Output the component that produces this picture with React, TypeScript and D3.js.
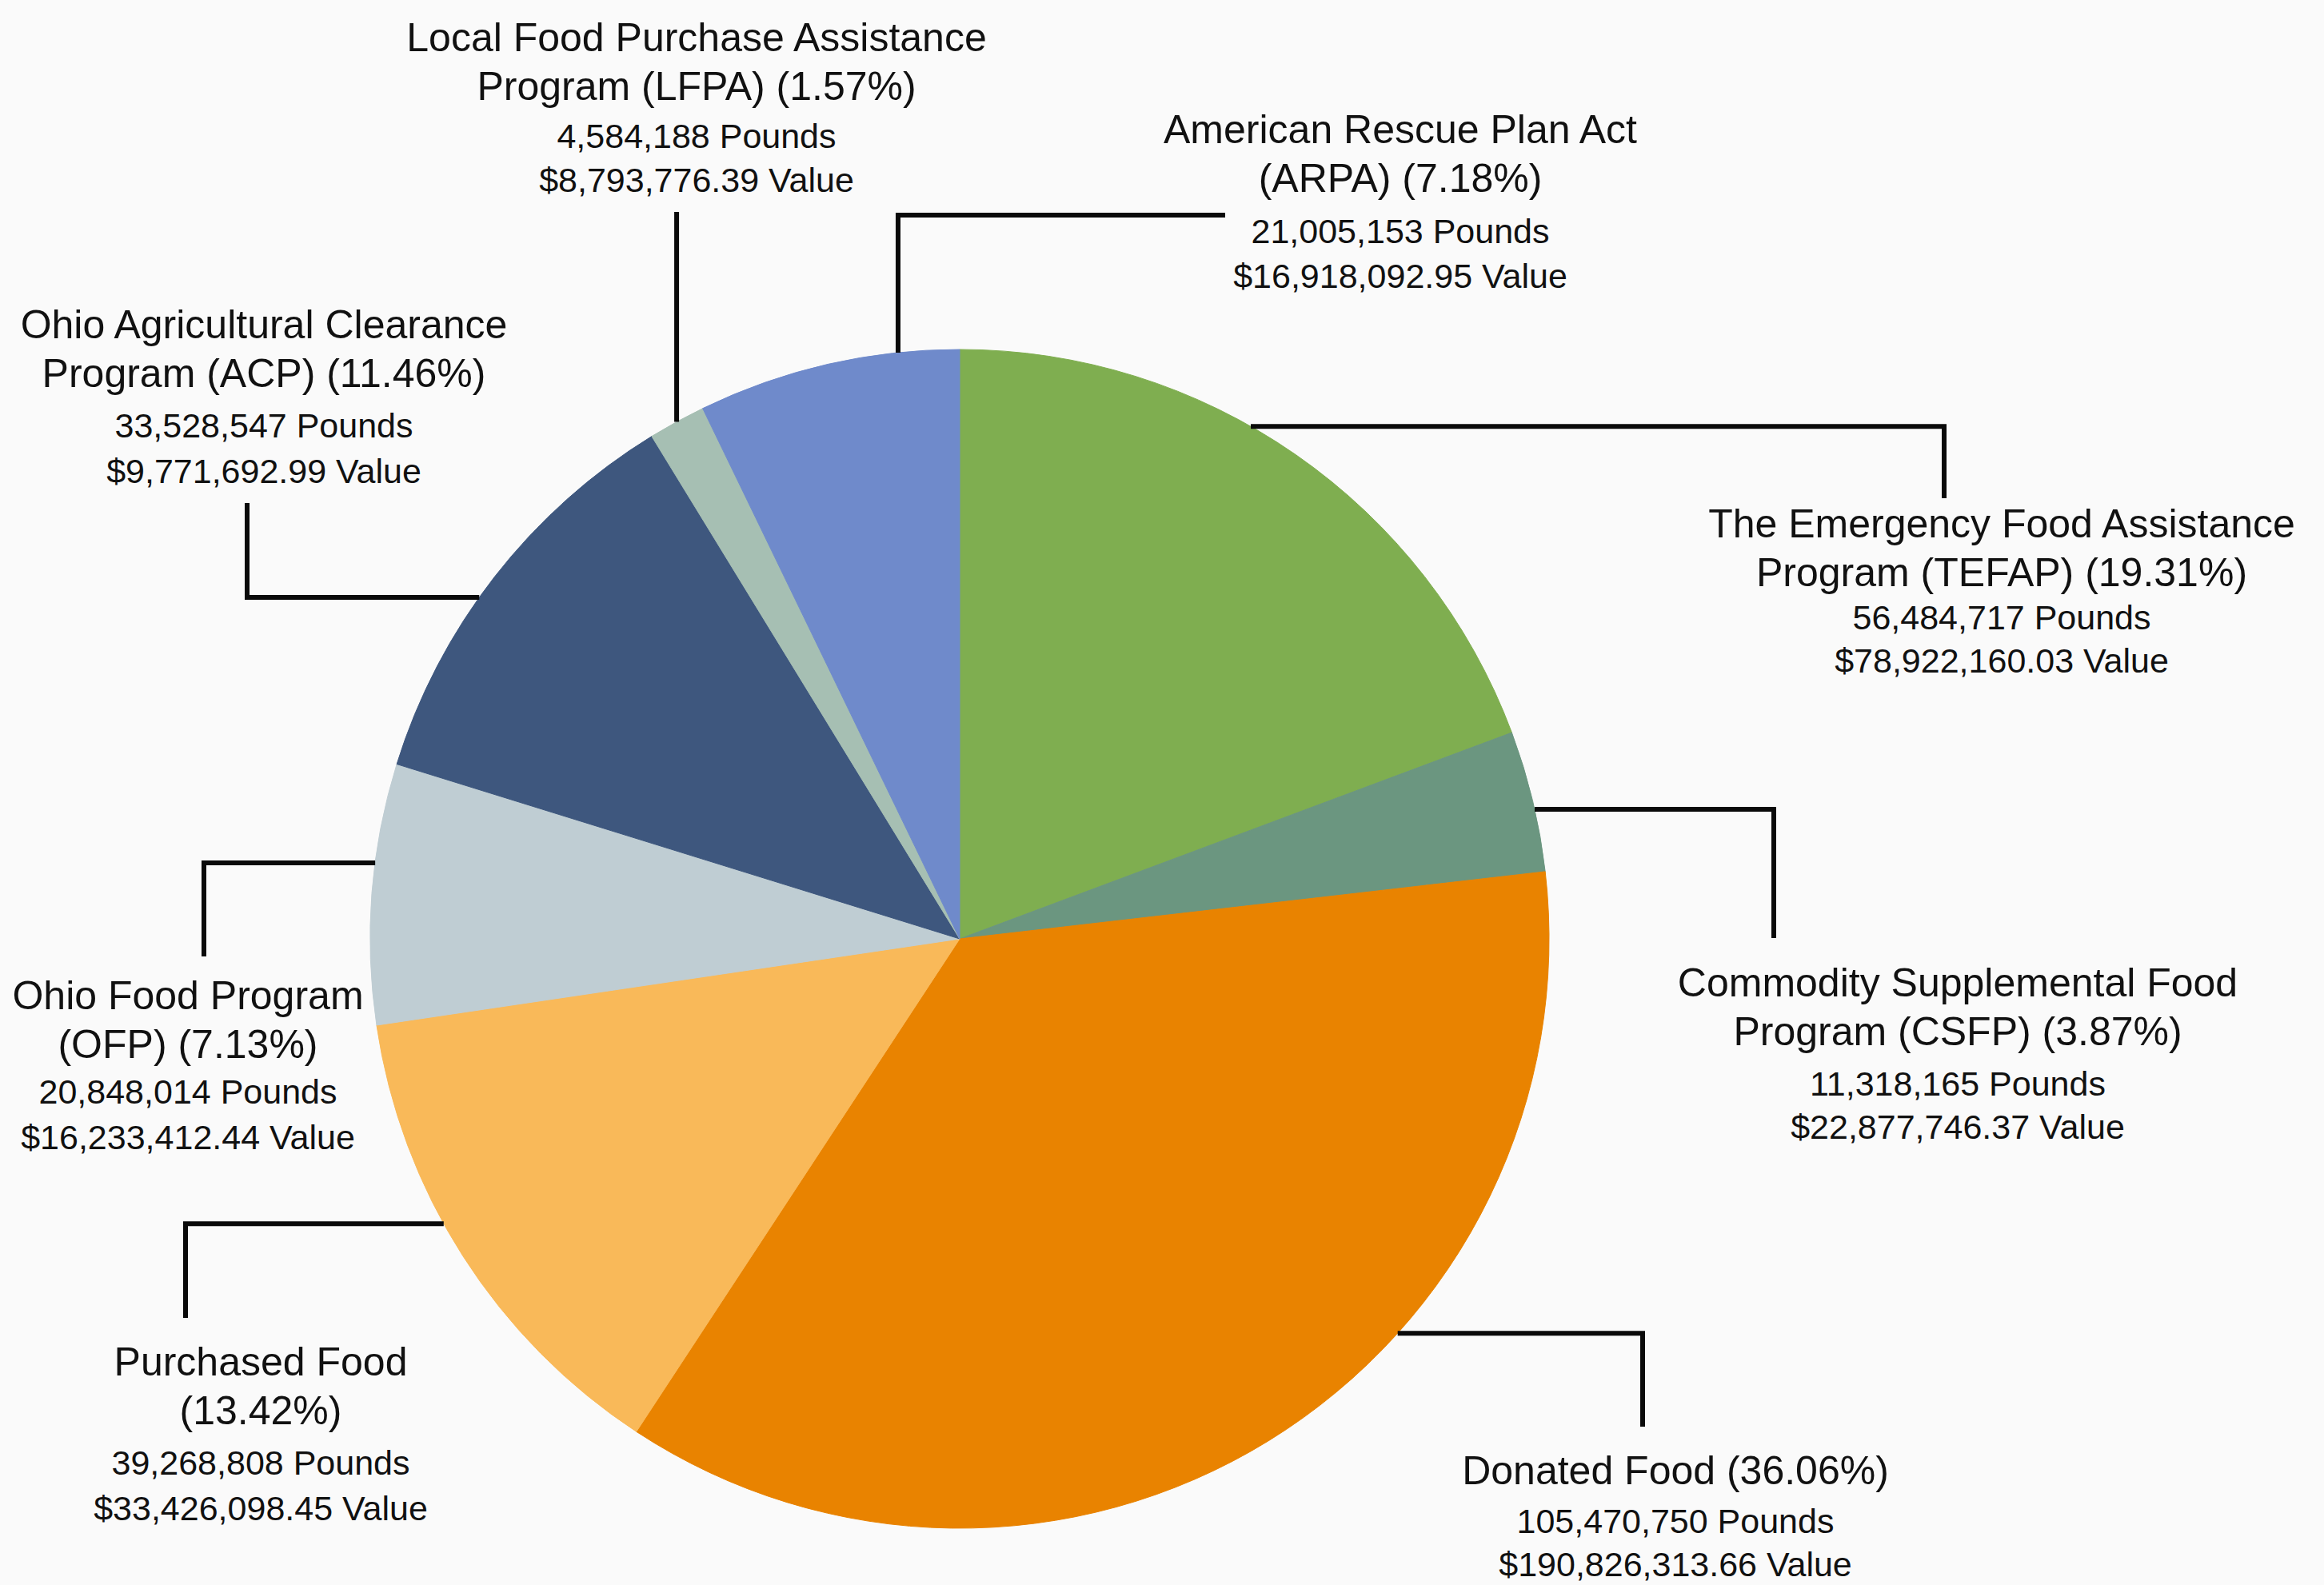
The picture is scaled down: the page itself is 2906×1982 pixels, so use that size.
import React, { useEffect } from 'react';
import * as d3 from 'd3';

// Chart data
const titleLines = [
  ['The Emergency Food Assistance', 'Program (TEFAP) (19.31%)'],
  ['Commodity Supplemental Food', 'Program (CSFP) (3.87%)'],
  ['Donated Food (36.06%)'],
  ['Purchased Food', '(13.42%)'],
  ['Ohio Food Program', '(OFP) (7.13%)'],
  ['Ohio Agricultural Clearance', 'Program (ACP) (11.46%)'],
  ['Local Food Purchase Assistance', 'Program (LFPA) (1.57%)'],
  ['American Rescue Plan Act', '(ARPA) (7.18%)'],
];
const percents = [19.31, 3.87, 36.06, 13.42, 7.13, 11.46, 1.57, 7.18];
const pounds = ['56,484,717', '11,318,165', '105,470,750', '39,268,808', '20,848,014', '33,528,547', '4,584,188', '21,005,153'];
const values = ['$78,922,160.03', '$22,877,746.37', '$190,826,313.66', '$33,426,098.45', '$16,233,412.44', '$9,771,692.99', '$8,793,776.39', '$16,918,092.95'];
const colors = ['#7fae50', '#6b9680', '#e98300', '#f9b959', '#bfcdd3', '#3e577e', '#a6bfb3', '#6f8acb'];

// Layout (label anchors and leader routing)
const W = 2906;
const H = 1982;
const cx = 1200;
const cy = 1174;
const R = 737;
const labelPos = [
  { x: 2503, y: 654, gap: 57, step: 54 },
  { x: 2448, y: 1228, gap: 66, step: 54 },
  { x: 2095, y: 1838, gap: 64, step: 54 },
  { x: 326, y: 1702, gap: 66, step: 57 },
  { x: 235, y: 1244, gap: 60, step: 57 },
  { x: 330, y: 405, gap: 66, step: 57 },
  { x: 871, y: 46, gap: 63, step: 55 },
  { x: 1751, y: 161, gap: 67, step: 56 },
];
// leader: angle on the pie edge (deg, clockwise from top) then elbow moves
const leaders: { angle: number; moves: ['h' | 'v', number][] }[] = [
  { angle: 29.6, moves: [['h', 2431], ['v', 623]] },
  { angle: 77.3, moves: [['h', 2218], ['v', 1173]] },
  { angle: 132, moves: [['h', 2054], ['v', 1784]] },
  { angle: 241.1, moves: [['h', 232], ['v', 1648]] },
  { angle: 277.4, moves: [['h', 255], ['v', 1196]] },
  { angle: 305.4, moves: [['h', 309], ['v', 629]] },
  { angle: 331.3, moves: [['v', 265]] },
  { angle: 354, moves: [['v', 269], ['h', 1532]] },
];

const FONT = "'Liberation Sans', Arial, sans-serif";
const TITLE_SIZE = 50;
const SUB_SIZE = 43;

export default function App() {
  useEffect(() => {
    document.body.style.margin = '0';
  }, []);

  const pie = d3.pie<number>().sort(null).value(d => d);
  const arcs = pie(percents);
  const arc = d3.arc<d3.PieArcDatum<number>>().innerRadius(0).outerRadius(R);

  const leaderPath = (l: typeof leaders[number]) => {
    const a = (l.angle * Math.PI) / 180;
    let x = cx + R * Math.sin(a);
    let y = cy - R * Math.cos(a);
    const p = d3.path();
    p.moveTo(x, y);
    l.moves.forEach(([dir, v]) => {
      if (dir === 'h') x = v;
      else y = v;
      p.lineTo(x, y);
    });
    return p.toString();
  };

  return (
    <svg width={W} height={H} viewBox={`0 0 ${W} ${H}`} style={{ display: 'block', background: '#fafafa' }}>
      <rect width={W} height={H} fill="#fafafa" />
      <g transform={`translate(${cx},${cy})`}>
        {arcs.map((d, i) => (
          <path key={i} d={arc(d) as string} fill={colors[i]} stroke={colors[i]} strokeWidth={1} />
        ))}
      </g>
      {leaders.map((l, i) => (
        <path key={i} d={leaderPath(l)} fill="none" stroke="#0a0a0a" strokeWidth={6} strokeLinejoin="miter" />
      ))}
      {titleLines.map((lines, i) => {
        const pos = labelPos[i];
        const titleStep = 61;
        const subY = pos.y + (lines.length - 1) * titleStep + pos.gap;
        return (
          <g key={i} fontFamily={FONT} fill="#111" textAnchor="middle">
            {lines.map((t, j) => (
              <text key={j} x={pos.x} y={pos.y + j * titleStep + 18} fontSize={TITLE_SIZE}>{t}</text>
            ))}
            <text x={pos.x} y={subY + 15} fontSize={SUB_SIZE}>{`${pounds[i]} Pounds`}</text>
            <text x={pos.x} y={subY + pos.step + 15} fontSize={SUB_SIZE}>{`${values[i]} Value`}</text>
          </g>
        );
      })}
    </svg>
  );
}
